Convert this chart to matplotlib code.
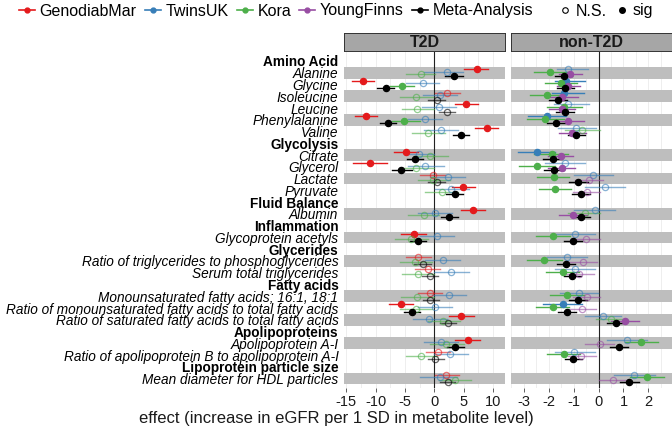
import matplotlib
matplotlib.use('Agg')
import matplotlib.pyplot as plt
from matplotlib.lines import Line2D
import numpy as np

plt.rcParams['font.family'] = ['Liberation Sans', 'DejaVu Sans']

# grupos de metabolitos (cabecera + metabolitos)
groups = ['Amino Acid', 'Glycolysis', 'Fluid Balance', 'Inflammation',
          'Glycerides', 'Fatty acids', 'Apolipoproteins', 'Lipoprotein particle size']
group_members = [
    ['Alanine', 'Glycine', 'Isoleucine', 'Leucine', 'Phenylalanine', 'Valine'],
    ['Citrate', 'Glycerol', 'Lactate', 'Pyruvate'],
    ['Albumin'],
    ['Glycoprotein acetyls'],
    ['Ratio of triglycerides to phosphoglycerides', 'Serum total triglycerides'],
    ['Monounsaturated fatty acids; 16:1, 18:1',
     'Ratio of monounsaturated fatty acids to total fatty acids',
     'Ratio of saturated fatty acids to total fatty acids'],
    ['Apolipoprotein A-I', 'Ratio of apolipoprotein B to apolipoprotein A-I'],
    ['Mean diameter for HDL particles'],
]

# --- T2D ---
t2d_genodiab_est = [7.2, -12.2, 2.2, 5.45, -11.65, 8.9, -4.9, -11.0, -0.3, 4.9, 6.6, -3.5, -2.7, -1.1, -0.8, -5.7, 4.6, 5.7, 0.6, 2.05]
t2d_genodiab_lo = [5.1, -14.0, 0.05, 3.6, -13.5, 7.0, -6.9, -13.9, -2.4, 3.0, 4.5, -5.6, -4.8, -3.2, -2.8, -7.7, 2.55, 3.6, -1.4, 0.05]
t2d_genodiab_hi = [9.2, -10.3, 4.3, 7.4, -9.8, 10.8, -2.8, -8.1, 1.9, 7.0, 8.7, -1.4, -0.6, 1.0, 1.3, -3.6, 6.7, 7.8, 2.7, 4.15]
t2d_genodiab_sig = [1, 1, 0, 1, 1, 1, 1, 1, 0, 1, 1, 1, 0, 0, 0, 1, 1, 1, 0, 0]

t2d_twins_est = [2.1, -2.0, 0.9, 0.85, -1.5, 1.1, -2.6, -1.5, 2.3, 2.9, 0.05, 0.45, 1.5, 2.9, 2.5, 0.1, -0.9, 1.2, 2.7, 0.9]
t2d_twins_lo = [-1.8, -4.8, -2.0, -2.1, -4.4, -1.8, -4.9, -4.4, -0.7, 0.2, -2.8, -2.5, -1.5, -0.1, -0.4, -2.7, -3.6, -1.8, -0.1, -2.4]
t2d_twins_hi = [4.9, 0.85, 3.9, 3.75, 1.3, 4.1, -0.1, 1.6, 5.3, 5.85, 3.0, 3.4, 4.4, 5.85, 5.45, 3.1, 2.2, 4.1, 5.7, 3.9]
t2d_twins_sig = [0] * 20

t2d_kora_est = [-2.3, -5.5, -3.1, -2.9, -5.1, -1.0, -0.7, -3.1, -0.2, 1.25, -1.8, -4.0, -3.2, -2.8, -3.0, -3.1, 1.5, 2.05, -2.3, 3.6]
t2d_kora_lo = [-4.9, -7.5, -5.8, -5.5, -7.2, -3.8, -3.4, -5.9, -2.8, -1.5, -4.4, -6.65, -5.9, -5.5, -5.6, -5.8, -1.0, -0.7, -4.8, 0.85]
t2d_kora_hi = [0.2, -3.5, -0.2, -0.1, -2.5, 1.9, 2.3, -0.1, 2.7, 4.1, 0.85, -1.1, -0.4, 0.0, -0.1, -0.4, 4.3, 5.0, 0.45, 6.3]
t2d_kora_sig = [0, 1, 0, 0, 1, 0, 0, 0, 0, 0, 0, 0, 0, 0, 0, 0, 0, 0, 0, 0]

t2d_meta_est = [3.4, -8.3, 0.45, 2.1, -7.9, 4.5, -3.35, -5.6, 0.45, 3.5, 2.55, -2.8, -2.0, -0.7, -0.7, -3.8, 2.3, 3.6, 0.2, 2.3]
t2d_meta_lo = [1.9, -9.8, -1.0, 0.74, -9.2, 3.2, -4.7, -7.2, -1.0, 2.0, 1.1, -4.2, -3.4, -2.1, -2.0, -5.1, 1.0, 2.2, -1.1, 0.9]
t2d_meta_hi = [4.9, -6.9, 1.9, 3.6, -6.5, 6.0, -1.9, -3.8, 1.9, 4.9, 4.0, -1.4, -0.6, 0.7, 0.85, -2.4, 3.75, 5.1, 1.6, 3.6]
t2d_meta_sig = [1, 1, 0, 0, 1, 1, 1, 1, 0, 1, 1, 1, 0, 0, 0, 1, 0, 1, 0, 0]

# --- non-T2D ---
nt2d_twins_est = [-1.21, -1.30, -1.41, -1.21, -2.08, -0.9, -2.49, -1.33, -0.23, 0.27, -0.16, -0.94, -1.28, -0.94, -0.78, -1.44, 0.16, 1.14, -0.97, 1.41]
nt2d_twins_lo = [-1.68, -1.77, -1.88, -1.81, -2.85, -1.64, -3.23, -2.15, -1.0, -0.54, -0.97, -1.72, -2.08, -1.75, -1.55, -2.22, -0.56, 0.34, -1.75, 0.6]
nt2d_twins_hi = [-0.43, -0.54, -0.6, -0.4, -1.32, -0.1, -1.75, -0.54, 0.56, 1.05, 0.65, -0.16, -0.47, -0.16, -0.03, -0.67, 0.91, 1.95, -0.16, 2.26]
nt2d_twins_sig = [0, 1, 1, 0, 1, 0, 1, 0, 0, 0, 0, 0, 0, 0, 0, 1, 0, 0, 0, 0]

nt2d_kora_est = [-1.95, -1.52, -2.06, -1.38, -2.15, -0.65, -1.88, -2.49, -1.81, -1.75, -0.56, -1.85, -2.19, -1.45, -1.28, -1.85, 0.51, 1.72, -1.41, 1.95]
nt2d_kora_lo = [-2.58, -2.15, -2.75, -2.08, -2.89, -1.34, -2.58, -3.2, -2.49, -2.39, -1.24, -2.53, -2.89, -2.12, -1.95, -2.53, -0.09, 1.05, -2.08, 1.28]
nt2d_kora_hi = [-1.28, -0.87, -1.37, -0.67, -1.41, 0.07, -1.21, -1.77, -1.18, -1.12, 0.07, -1.14, -1.48, -0.78, -0.6, -1.18, 1.14, 2.39, -0.74, 2.62]
nt2d_kora_sig = [1, 1, 1, 1, 1, 0, 1, 1, 1, 1, 0, 1, 1, 1, 1, 1, 0, 1, 1, 1]

nt2d_young_est = [-1.13, -1.21, -1.48, -1.48, -1.21, -1.05, -1.52, -1.48, -0.38, -0.47, -1.03, -0.5, -0.63, -0.78, -0.47, -0.67, 1.05, 0.04, -0.7, 0.58]
nt2d_young_lo = [-1.61, -1.68, -1.95, -2.0, -1.75, -1.61, -2.04, -2.04, -0.94, -1.01, -1.59, -1.03, -1.21, -1.34, -1.03, -1.24, 0.51, -0.54, -1.24, 0.0]
nt2d_young_hi = [-0.65, -0.74, -0.83, -0.96, -0.6, -0.51, -1.01, -0.94, 0.16, 0.07, -0.47, 0.07, -0.07, -0.2, 0.07, -0.11, 1.61, 0.6, -0.11, 1.14]
nt2d_young_sig = [1, 1, 1, 1, 1, 1, 1, 1, 0, 0, 1, 0, 0, 0, 0, 0, 1, 0, 0, 0]

nt2d_meta_est = [-1.41, -1.33, -1.65, -1.36, -1.72, -0.9, -1.85, -1.79, -0.81, -0.71, -0.71, -1.03, -1.32, -1.05, -0.83, -1.26, 0.7, 0.83, -1.01, 1.24]
nt2d_meta_lo = [-1.77, -1.68, -2.0, -1.71, -2.08, -1.24, -2.22, -2.18, -1.18, -1.08, -1.08, -1.41, -1.68, -1.41, -1.18, -1.64, 0.34, 0.47, -1.37, 0.87]
nt2d_meta_hi = [-1.05, -0.98, -1.28, -1.0, -1.34, -0.54, -1.48, -1.41, -0.43, -0.34, -0.34, -0.67, -0.94, -0.69, -0.47, -0.9, 1.08, 1.18, -0.65, 1.61]
nt2d_meta_sig = [1] * 20

studies = ['GenodiabMar', 'TwinsUK', 'Kora', 'YoungFinns', 'Meta-Analysis']
colors = {'GenodiabMar': '#E41A1C', 'TwinsUK': '#377EB8', 'Kora': '#4DAF4A',
          'YoungFinns': '#984EA3', 'Meta-Analysis': 'black'}

# construir las filas: cabeceras en negrita, metabolitos en cursiva
row_labels = []
row_header = []
metab_rows = []
band_rows = []
for g, members in zip(groups, group_members):
    row_labels.append(g)
    row_header.append(True)
    for j, m in enumerate(members):
        row_labels.append(m)
        row_header.append(False)
        metab_rows.append(len(row_labels))
        if j % 2 == 0:
            band_rows.append(len(row_labels))
metab_rows = np.array(metab_rows, dtype=float)
n_rows = len(row_labels)

t2d_series = [
    ('GenodiabMar', t2d_genodiab_est, t2d_genodiab_lo, t2d_genodiab_hi, t2d_genodiab_sig),
    ('TwinsUK', t2d_twins_est, t2d_twins_lo, t2d_twins_hi, t2d_twins_sig),
    ('Kora', t2d_kora_est, t2d_kora_lo, t2d_kora_hi, t2d_kora_sig),
    ('Meta-Analysis', t2d_meta_est, t2d_meta_lo, t2d_meta_hi, t2d_meta_sig),
]
nt2d_series = [
    ('TwinsUK', nt2d_twins_est, nt2d_twins_lo, nt2d_twins_hi, nt2d_twins_sig),
    ('Kora', nt2d_kora_est, nt2d_kora_lo, nt2d_kora_hi, nt2d_kora_sig),
    ('YoungFinns', nt2d_young_est, nt2d_young_lo, nt2d_young_hi, nt2d_young_sig),
    ('Meta-Analysis', nt2d_meta_est, nt2d_meta_lo, nt2d_meta_hi, nt2d_meta_sig),
]

W, H = 672, 430
fig = plt.figure(figsize=(W / 100, H / 100), dpi=100)

panel_bottom = 1 - 388 / H
panel_h = (388 - 52) / H
ax1 = fig.add_axes([344 / W, panel_bottom, 161 / W, panel_h])
ax2 = fig.add_axes([511 / W, panel_bottom, 161 / W, panel_h])


def draw_panel(ax, series, xlim, ticks, grid_step, title):
    ax.set_xlim(*xlim)
    ax.set_ylim(n_rows + 0.8, 0.24)
    for x in np.arange(-20, 20, grid_step):
        ax.axvline(x, color='#EBEBEB', lw=0.6, zorder=0)
    for r in band_rows:
        ax.axhspan(r - 0.5, r + 0.5, color='#BEBEBE', lw=0, zorder=1)
    ax.axvline(0, color='#222222', lw=0.8, zorder=2)

    offsets = [-0.3, -0.1, 0.1, 0.3]
    for k, (name, est, lo, hi, sig) in enumerate(series):
        c = colors[name]
        y = metab_rows + offsets[k]
        for i in range(len(est)):
            a = 1.0 if sig[i] else 0.6
            ax.plot([lo[i], hi[i]], [y[i], y[i]], color=c, lw=1.0, alpha=a, zorder=3)
            ax.plot(est[i], y[i], 'o', ms=4.5, mec=c, mew=0.9,
                    mfc=c if sig[i] else 'none', alpha=a, zorder=4)

    ax.set_xticks(ticks)
    ax.set_xticklabels([str(t) for t in ticks])
    ax.tick_params(axis='x', length=3, width=0.6, color='#444444', pad=2,
                   labelsize=10.5, labelcolor='#1A1A1A')
    ax.set_yticks([])
    for s in ax.spines.values():
        s.set_visible(False)

    # cabecera del panel (strip)
    pos = ax.get_position()
    strip = fig.add_axes([pos.x0, 1 - 51 / H, pos.width, 18 / H])
    strip.set_facecolor('#A6A6A6')
    strip.set_xticks([])
    strip.set_yticks([])
    for s in strip.spines.values():
        s.set_color('#333333')
        s.set_linewidth(0.7)
    strip.text(0.5, 0.45, title, ha='center', va='center', fontsize=11.5,
               fontweight='bold', color='#1A1A1A', transform=strip.transAxes)


draw_panel(ax1, t2d_series, (-15.38, 12.05), [-15, -10, -5, 0, 5, 10], 2.5, 'T2D')
draw_panel(ax2, nt2d_series, (-3.52, 2.95), [-3, -2, -1, 0, 1, 2], 0.5, 'non-T2D')

# etiquetas de filas
ax1.set_yticks(np.arange(1, n_rows + 1))
ax1.set_yticklabels(row_labels)
ax1.tick_params(axis='y', length=0, pad=4, labelsize=9.8)
for lab, hdr in zip(ax1.get_yticklabels(), row_header):
    if hdr:
        lab.set_fontweight('bold')
    else:
        lab.set_fontstyle('italic')

fig.text(0.5, 1 - 418 / H, 'effect (increase in eGFR per 1 SD in metabolite level)',
         ha='center', va='center', fontsize=12, color='#1A1A1A')

# leyendas
study_handles = [Line2D([0], [0], color=colors[s], lw=1.2, marker='o', ms=3.5) for s in studies]
fig.legend(study_handles, studies, loc='center', bbox_to_anchor=(276 / W, 1 - 11 / H),
           ncol=5, frameon=False, fontsize=11.5, handlelength=1.0, handletextpad=0.3,
           columnspacing=0.5, borderpad=0)
sig_handles = [Line2D([], [], ls='none', marker='o', ms=4, mfc='none', mec='black', mew=0.8),
               Line2D([], [], ls='none', marker='o', ms=4, color='black')]
fig.legend(sig_handles, ['N.S.', 'sig'], loc='center', bbox_to_anchor=(606 / W, 1 - 11 / H),
           ncol=2, frameon=False, fontsize=11.5, handlelength=0.8, handletextpad=0.3,
           columnspacing=0.5, borderpad=0)

plt.savefig('out.png', dpi=100)
